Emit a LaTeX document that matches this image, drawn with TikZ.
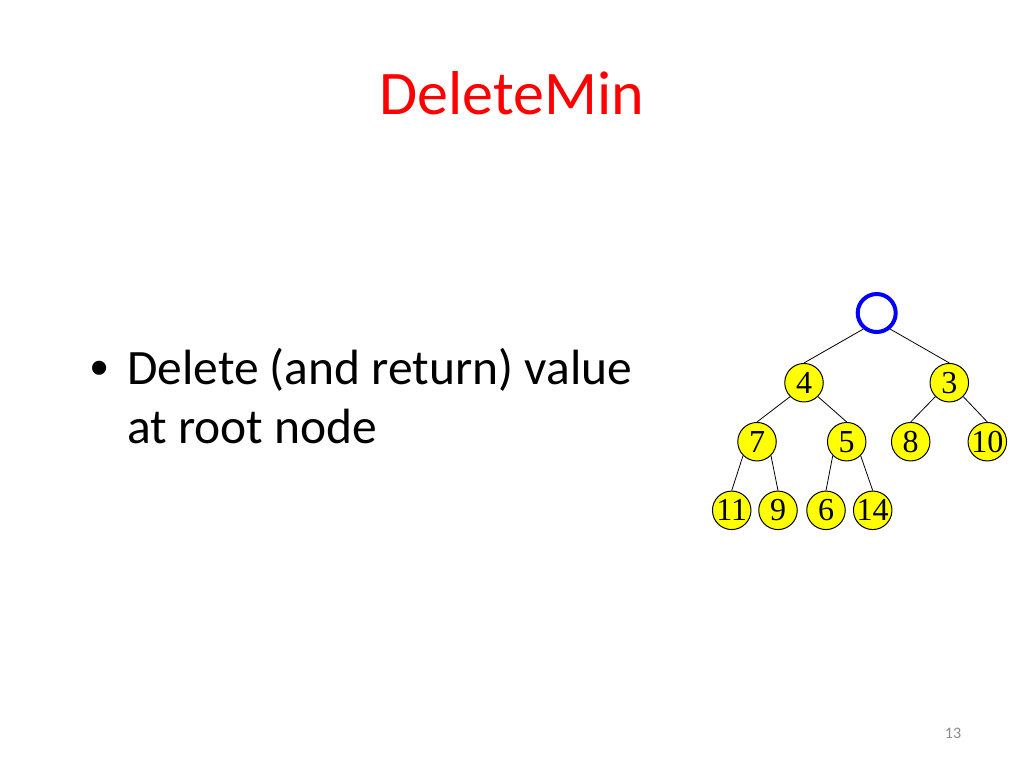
\documentclass[tikz,border=0pt]{standalone}
\usepackage{fontspec}
\setmainfont{Carlito}
\newfontfamily\tnr{Liberation Serif}
\newfontfamily\arl{Liberation Sans}
\definecolor{titlered}{HTML}{FF0000}
\definecolor{heapyellow}{HTML}{FFFF00}
\definecolor{rootblue}{HTML}{0000FF}
\definecolor{pagegray}{HTML}{8B8B8B}
\tikzset{
  heapnode/.style={circle, draw=black, fill=heapyellow, line width=1pt,
    minimum size=38.5pt, inner sep=0pt, font=\tnr\fontsize{32}{32}\selectfont},
  rootnode/.style={circle, draw=rootblue, fill=white, line width=4pt,
    minimum size=38pt, inner sep=0pt},
  edge/.style={draw=black, line width=0.8pt},
  bodytext/.style={anchor=base west, inner sep=0pt, font=\fontsize{49.5}{59}\selectfont}
}
\begin{document}
\begin{tikzpicture}[x=1pt,y=-1pt]
\fill[white] (0,0) rectangle (1024,768);
\useasboundingbox (0,0) rectangle (1024,768);

% title
\node[anchor=base, inner sep=0pt, text=titlered, font=\fontsize{62}{74}\selectfont] (title) at (512,114) {DeleteMin};

% bullet text
\node[inner sep=0pt, font=\arl\fontsize{52}{52}\selectfont] (bullet) at (100,373) {•};
\node[bodytext] (line1) at (127,384) {Delete (and return) value};
\node[bodytext] (line2) at (127,443) {at root node};

% page number
\node[anchor=base, inner sep=0pt, text=pagegray, font=\fontsize{16}{18}\selectfont] (page) at (953,738) {13};

% tree
\node[rootnode] (r) at (876.7,313) {};
\node[heapnode] (n4) at (804,382.7) {4};
\node[heapnode] (n3) at (949.3,382.7) {3};
\node[heapnode] (n7) at (757,441.7) {7};
\node[heapnode] (n5) at (846.7,441.7) {5};
\node[heapnode] (n8) at (910.7,441.7) {8};
\node[heapnode] (n10) at (987.3,441.7) {10};
\node[heapnode] (n11) at (731.7,510.3) {11};
\node[heapnode] (n9) at (778,510.3) {9};
\node[heapnode] (n6) at (826,510.3) {6};
\node[heapnode] (n14) at (872.7,510.3) {14};

\draw[edge] (r.230) -- (n4.north);
\draw[edge] (r.310) -- (n3.north);
\draw[edge] (n4.225) -- (n7.north);
\draw[edge] (n4.315) -- (n5.north);
\draw[edge] (n3.225) -- (n8.north);
\draw[edge] (n3.315) -- (n10.north);
\draw[edge] (n7.225) -- (n11.north);
\draw[edge] (n7.315) -- (n9.north);
\draw[edge] (n5.225) -- (n6.north);
\draw[edge] (n5.315) -- (n14.north);
\end{tikzpicture}
\end{document}
